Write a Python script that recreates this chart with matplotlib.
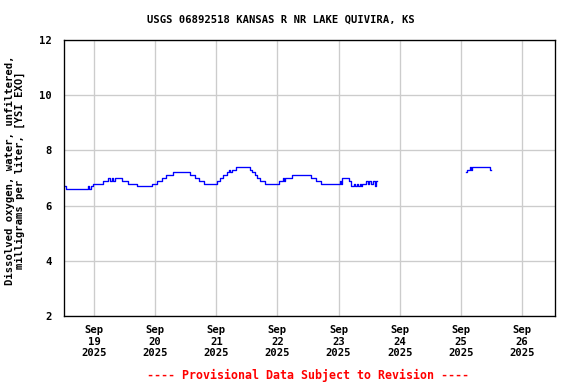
import matplotlib
matplotlib.use("Agg")
import matplotlib.pyplot as plt
import matplotlib.dates as mdates
from datetime import datetime, timedelta

# hours since 2025-09-19 00:00, dissolved oxygen (mg/L) at each step change
seg1_hours = [-11.4, -11.0, -2.4, -1.8, -1.2, -0.3, 3.4, 5.5, 6.3, 7.0, 7.6, 8.4,
              10.9, 13.4, 16.7, 22.6, 24.6, 26.5, 28.2, 30.9, 37.6, 39.6, 41.3,
              43.1, 48.1, 49.4, 50.7, 52.1, 52.8, 53.3, 54.0, 55.7, 61.2, 61.9,
              63.1, 63.9, 65.1, 67.0, 72.6, 74.2, 74.5, 74.9, 77.9, 85.3, 87.0,
              89.0, 96.4, 96.8, 97.5, 100.1, 100.7, 101.9, 102.3, 103.1, 103.5,
              104.3, 104.7, 105.4, 106.9, 107.4, 107.8, 108.9, 109.5, 110.2,
              110.8, 111.1]
seg1_do = [6.7, 6.6, 6.7, 6.6, 6.7, 6.8, 6.9, 7.0, 6.9, 7.0, 6.9, 7.0,
           6.9, 6.8, 6.7, 6.8, 6.9, 7.0, 7.1, 7.2, 7.1, 7.0, 6.9,
           6.8, 6.9, 7.0, 7.1, 7.2, 7.3, 7.2, 7.3, 7.4, 7.3, 7.2,
           7.1, 7.0, 6.9, 6.8, 6.9, 7.0, 6.9, 7.0, 7.1, 7.0, 6.9,
           6.8, 6.9, 6.8, 7.0, 6.9, 6.7, 6.8, 6.7, 6.8, 6.7,
           6.8, 6.7, 6.8, 6.9, 6.8, 6.9, 6.8, 6.9, 6.7,
           6.9, 6.9]
seg2_hours = [145.9, 146.3, 147.6, 148.0, 148.6, 155.6, 156.0]
seg2_do = [7.2, 7.3, 7.4, 7.3, 7.4, 7.3, 7.3]

day_ticks = [datetime(2025, 9, d) for d in range(19, 27)]
y_ticks = [2, 4, 6, 8, 10, 12]

title = "USGS 06892518 KANSAS R NR LAKE QUIVIRA, KS"
ylabel = "Dissolved oxygen, water, unfiltered,\nmilligrams per liter, [YSI EXO]"
footer = "---- Provisional Data Subject to Revision ----"

base = datetime(2025, 9, 19)
t1 = [base + timedelta(hours=h) for h in seg1_hours]
t2 = [base + timedelta(hours=h) for h in seg2_hours]

mono = "DejaVu Sans Mono"
fs = 7.9

fig = plt.figure(figsize=(6, 4), dpi=96)
ax = fig.add_axes([64 / 576, 68 / 384, 491 / 576, 276 / 384])

ax.plot(t1, seg1_do, drawstyle="steps-post", color="#0000ff", lw=1)
ax.plot(t2, seg2_do, drawstyle="steps-post", color="#0000ff", lw=1)

ax.set_xlim(base - timedelta(hours=11.8), base + timedelta(hours=181))
ax.set_ylim(2, 12)
ax.set_xticks(day_ticks)
ax.set_xticklabels([d.strftime("%b\n%d\n%Y") for d in day_ticks],
                   fontfamily=mono, fontweight="bold", fontsize=fs, linespacing=1.15)
ax.set_yticks(y_ticks)
ax.set_yticklabels([str(v) for v in y_ticks], fontfamily=mono,
                   fontweight="bold", fontsize=fs)
ax.tick_params(axis="x", length=0, pad=7)
ax.tick_params(axis="y", length=0, pad=9.5)
ax.grid(True, color="#cccccc", lw=1)
ax.set_axisbelow(True)
for s in ax.spines.values():
    s.set_linewidth(1)
    s.set_color("black")

fig.text(281 / 576, 1 - 20 / 384, title, ha="center", va="center",
         fontfamily=mono, fontweight="bold", fontsize=fs)
fig.text(15 / 576, 1 - 170 / 384, ylabel, ha="center", va="center",
         rotation=90, multialignment="center", linespacing=1.0,
         fontfamily=mono, fontweight="bold", fontsize=fs)
fig.text(308 / 576, 1 - 375 / 384, footer, ha="center", va="center",
         color="red", fontfamily=mono, fontweight="bold", fontsize=8.7)

fig.savefig("out.png", dpi=96)
